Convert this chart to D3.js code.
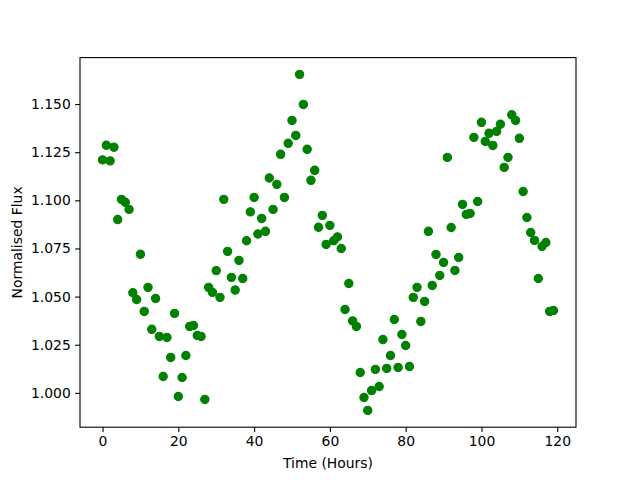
<!DOCTYPE html>
<html>
<head>
<meta charset="utf-8">
<script src="https://cdn.jsdelivr.net/npm/d3@7"></script>
<style>
  body { margin: 0; background: #fff; }
  svg { display: block; font-family: "DejaVu Sans", sans-serif; }
</style>
</head>
<body>
<div id="chart"></div>
<script>
// Time in hours
const hours = [
  0, 1, 2, 3, 4, 5, 6, 7, 8, 9, 10, 11, 12, 13, 14, 15, 16, 17, 18, 19,
  20, 21, 22, 23, 24, 25, 26, 27, 28, 29, 30, 31, 32, 33, 34, 35, 36, 37, 38, 39,
  40, 41, 42, 43, 44, 45, 46, 47, 48, 49, 50, 51, 52, 53, 54, 55, 56, 57, 58, 59,
  60, 61, 62, 63, 64, 65, 66, 67, 68, 69, 70, 71, 72, 73, 74, 75, 76, 77, 78, 79,
  80, 81, 82, 83, 84, 85, 86, 87, 88, 89, 90, 91, 92, 93, 94, 95, 96, 97, 98, 99,
  100, 101, 102, 103, 104, 105, 106, 107, 108, 109, 110, 111, 112, 113, 114, 115, 116, 117, 118, 119
];

// Normalised flux
const flux = [
  1.1210, 1.1286, 1.1205, 1.1276, 1.0900, 1.1005, 1.0990, 1.0953, 1.0520, 1.0485,
  1.0720, 1.0423, 1.0548, 1.0330, 1.0490, 1.0293, 1.0085, 1.0288, 1.0184, 1.0413,
  0.9981, 1.0080, 1.0194, 1.0345, 1.0350, 1.0298, 1.0293, 0.9966, 1.0548, 1.0522,
  1.0635, 1.0496, 1.1005, 1.0735, 1.0600, 1.0534, 1.0688, 1.0594, 1.0790, 1.0940,
  1.1015, 1.0825, 1.0906, 1.0839, 1.1116, 1.0953, 1.1083, 1.1239, 1.1015, 1.1296,
  1.1415, 1.1337, 1.1654, 1.1498, 1.1265, 1.1104, 1.1156, 1.0860, 1.0922, 1.0771,
  1.0870, 1.0790, 1.0810, 1.0750, 1.0433, 1.0568, 1.0374, 1.0345, 1.0106, 0.9976,
  0.9909, 1.0012, 1.0122, 1.0033, 1.0277, 1.0127, 1.0194, 1.0381, 1.0132, 1.0303,
  1.0246, 1.0137, 1.0496, 1.0548, 1.0371, 1.0475, 1.0839, 1.0558, 1.0719, 1.0610,
  1.0677, 1.1223, 1.0859, 1.0636, 1.0703, 1.0979, 1.0927, 1.0932, 1.1327, 1.0994,
  1.1405, 1.1306, 1.1348, 1.1285, 1.1358, 1.1395, 1.1171, 1.1223, 1.1444, 1.1415,
  1.1322, 1.1046, 1.0911, 1.0833, 1.0792, 1.0594, 1.0761, 1.0781, 1.0423, 1.0428
];

const xTicks = [0, 20, 40, 60, 80, 100, 120];
const yTicks = [1.000, 1.025, 1.050, 1.075, 1.100, 1.125, 1.150];

const W = 640, H = 480;
const margin = { top: 57.6, right: 64, bottom: 52.8, left: 80 };
const plotW = W - margin.left - margin.right;
const plotH = H - margin.top - margin.bottom;

const data = hours.map((h, i) => ({ h, f: flux[i] }));

// matplotlib-style 5% margins around the data
const pad = ([a, b]) => { const r = b - a; return [a - r * 0.05, b + r * 0.05]; };

const x = d3.scaleLinear().domain(pad(d3.extent(hours))).range([0, plotW]);
const y = d3.scaleLinear().domain(pad(d3.extent(flux))).range([plotH, 0]);

const svg = d3.select('#chart')
  .append('svg')
  .attr('width', W)
  .attr('height', H);

svg.append('rect').attr('width', W).attr('height', H).attr('fill', '#fff');

const g = svg.append('g')
  .attr('transform', `translate(${margin.left},${margin.top})`);

// Points
g.selectAll('circle')
  .data(data)
  .join('circle')
  .attr('cx', d => x(d.h))
  .attr('cy', d => y(d.f))
  .attr('r', 4.17)
  .attr('fill', '#008000')
  .attr('stroke', '#008000')
  .attr('stroke-width', 1.1);

// Axes
const xAxis = g.append('g')
  .attr('transform', `translate(0,${plotH})`)
  .call(d3.axisBottom(x).tickValues(xTicks).tickSize(4.86).tickPadding(4.4).tickFormat(d3.format('d')));

const yAxis = g.append('g')
  .call(d3.axisLeft(y).tickValues(yTicks).tickSize(4.86).tickPadding(4.4).tickFormat(d3.format('.3f')));

[xAxis, yAxis].forEach(a => {
  a.select('.domain').remove();
  a.selectAll('line').attr('stroke', '#000').attr('stroke-width', 1.1);
  a.selectAll('text')
    .style('font-family', '"DejaVu Sans", sans-serif')
    .style('font-size', '13.9px')
    .attr('fill', '#000');
});

// Frame
g.append('rect')
  .attr('width', plotW)
  .attr('height', plotH)
  .attr('fill', 'none')
  .attr('stroke', '#000')
  .attr('stroke-width', 1.1);

// Labels
svg.append('text')
  .attr('x', margin.left + plotW / 2)
  .attr('y', 468)
  .attr('text-anchor', 'middle')
  .style('font-size', '13.9px')
  .text('Time (Hours)');

svg.append('text')
  .attr('transform', `translate(21.5,${margin.top + plotH / 2}) rotate(-90)`)
  .attr('text-anchor', 'middle')
  .style('font-size', '13.9px')
  .text('Normalised Flux');
</script>
</body>
</html>
